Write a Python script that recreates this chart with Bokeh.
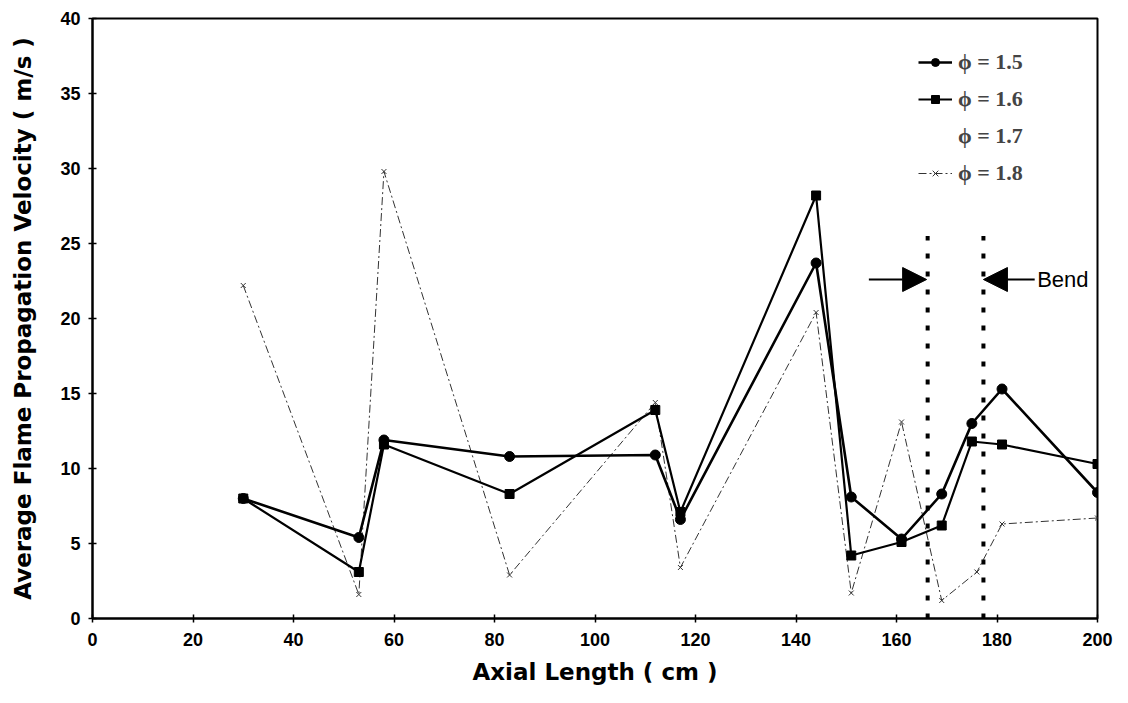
from bokeh.plotting import figure
from bokeh.models import Range1d, Legend, LegendItem, Arrow, NormalHead, Label, FixedTicker
from bokeh.embed import file_html
from bokeh.resources import INLINE

# ---- data ----
x_phi15 = [30, 53, 58, 83, 112, 117, 144, 151, 161, 169, 175, 181, 200]
y_phi15 = [8.0, 5.4, 11.9, 10.8, 10.9, 6.6, 23.7, 8.1, 5.3, 8.3, 13.0, 15.3, 8.4]

x_phi16 = [30, 53, 58, 83, 112, 117, 144, 151, 161, 169, 175, 181, 200]
y_phi16 = [8.0, 3.1, 11.6, 8.3, 13.9, 7.1, 28.2, 4.2, 5.1, 6.2, 11.8, 11.6, 10.3]

x_phi17 = []
y_phi17 = []

x_phi18 = [30, 53, 58, 83, 112, 117, 144, 151, 161, 169, 176, 181, 200]
y_phi18 = [22.2, 1.6, 29.8, 2.9, 14.4, 3.4, 20.4, 1.7, 13.1, 1.2, 3.1, 6.3, 6.7]

series_labels = ["\u03d5 = 1.5", "\u03d5 = 1.6", "\u03d5 = 1.7", "\u03d5 = 1.8"]

x_ticks = [0, 20, 40, 60, 80, 100, 120, 140, 160, 180, 200]
y_ticks = [0, 5, 10, 15, 20, 25, 30, 35, 40]

# bend markers (annotation)
bend_x = [166.2, 177.3]
bend_top = 25.5
arrow_y = 22.6
arrow_right = (154.5, 166.0)
arrow_left = (187.5, 177.3)
bend_text_x = 188.0

# ---- figure ----
p = figure(width=1118, height=693, output_backend="svg", toolbar_location=None,
           x_range=Range1d(0, 200), y_range=Range1d(0, 40),
           min_border_left=92, min_border_right=21, min_border_top=18, min_border_bottom=75,
           background_fill_color="white", border_fill_color="white")
p.grid.visible = False
p.outline_line_color = "black"
p.outline_line_width = 2

for ax in (p.xaxis[0], p.yaxis[0]):
    ax.axis_line_width = 2
    ax.axis_line_color = "black"
    ax.major_tick_in = 4
    ax.major_tick_out = 4
    ax.major_tick_line_width = 1.5
    ax.minor_tick_line_color = None
    ax.major_label_text_font = "Liberation Sans"
    ax.major_label_text_font_style = "bold"
    ax.major_label_text_font_size = "18px"
    ax.major_label_text_color = "black"
    ax.axis_label_text_font = "DejaVu Sans"
    ax.axis_label_text_font_style = "bold"
    ax.axis_label_text_font_size = "23px"
    ax.axis_label_text_color = "black"

p.xaxis.ticker = FixedTicker(ticks=x_ticks)
p.yaxis.ticker = FixedTicker(ticks=y_ticks)
p.xaxis.axis_label = "Axial Length ( cm )"
p.yaxis.axis_label = "Average Flame Propagation Velocity ( m/s )"
p.xaxis.major_label_standoff = 10
p.yaxis.major_label_standoff = 8
p.xaxis.axis_label_standoff = 10
p.yaxis.axis_label_standoff = 21

# bend dotted lines
p.segment(x0=bend_x, y0=[0, 0], x1=bend_x, y1=[bend_top, bend_top],
          line_color="black", line_width=4, line_dash="5 13")

# series
l18 = p.line(x_phi18, y_phi18, line_color="#333333", line_width=1, line_dash="8 3 2 3")
m18 = p.scatter(x_phi18, y_phi18, marker="x", size=7, line_color="#333333", line_width=1)

l17 = p.line(x_phi17, y_phi17, line_color="black", line_alpha=0)

l16 = p.line(x_phi16, y_phi16, line_color="black", line_width=2.2)
m16 = p.scatter(x_phi16, y_phi16, marker="square", size=9, fill_color="black", line_color="black")

l15 = p.line(x_phi15, y_phi15, line_color="black", line_width=2.6)
m15 = p.scatter(x_phi15, y_phi15, marker="circle", size=10, fill_color="black", line_color="black")

# arrows and label
p.add_layout(Arrow(end=NormalHead(size=24, fill_color="black", line_color="black"),
                   x_start=arrow_right[0], y_start=arrow_y, x_end=arrow_right[1], y_end=arrow_y,
                   line_color="black", line_width=2))
p.add_layout(Arrow(end=NormalHead(size=24, fill_color="black", line_color="black"),
                   x_start=arrow_left[0], y_start=arrow_y, x_end=arrow_left[1], y_end=arrow_y,
                   line_color="black", line_width=2))
p.add_layout(Label(x=bend_text_x, y=arrow_y, text="Bend", text_font="Liberation Sans",
                   text_font_size="22px", text_baseline="middle", text_color="black"))

legend = Legend(items=[
    LegendItem(label=series_labels[0], renderers=[l15, m15]),
    LegendItem(label=series_labels[1], renderers=[l16, m16]),
    LegendItem(label=series_labels[2], renderers=[l17]),
    LegendItem(label=series_labels[3], renderers=[l18, m18]),
], location=(826, 432), orientation="vertical",
    label_text_font="Liberation Serif", label_text_font_style="bold",
    label_text_font_size="22px", glyph_width=34, glyph_height=20, label_height=20,
    spacing=11, padding=0, margin=0, label_standoff=6,
    border_line_color=None, background_fill_alpha=0)
p.add_layout(legend)

open("out.html", "w").write(file_html(p, INLINE))
